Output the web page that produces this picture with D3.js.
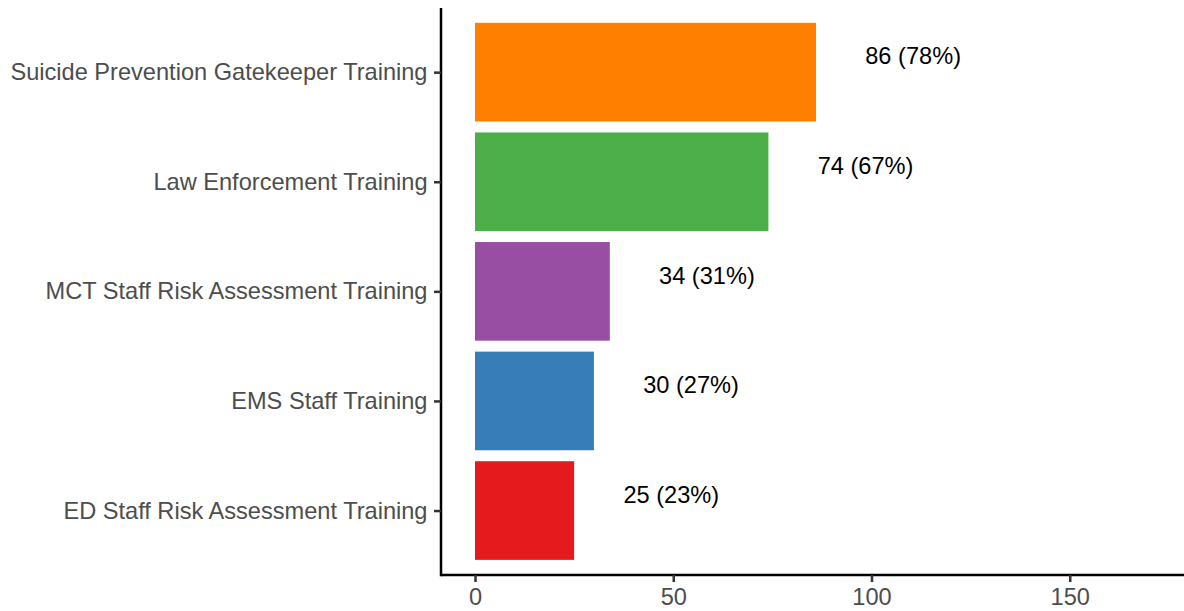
<!DOCTYPE html>
<html><head><meta charset="utf-8">
<script src="https://cdn.jsdelivr.net/npm/d3@7"></script>
<style>body{margin:0;background:#fff}svg{display:block}</style>
</head><body>
<svg id="c" width="1184" height="611"></svg>
<script>
const categories = ["Suicide Prevention Gatekeeper Training","Law Enforcement Training","MCT Staff Risk Assessment Training","EMS Staff Training","ED Staff Risk Assessment Training"];
const counts = [86, 74, 34, 30, 25];
const percents = [78, 67, 31, 27, 23];
const colors = ["#FF7F00","#4DAF4A","#984EA3","#377EB8","#E41A1C"];
const xTicks = [0, 50, 100, 150];

(function(){
const svg = d3.select("#c");
const left = 441, topY = 6.4, bottomY = 576.3, axisY = 575;
const ppu = 3.965;
const x = d3.scaleLinear().domain([0, 200]).range([475, 475 + 200*ppu]);
const y = d3.scalePoint().domain(categories).range([topY, bottomY]).padding(0.6);
const bh = y.step()*0.9;
const font = "'Liberation Sans', Arial, sans-serif";
const fs = 23.6;

svg.selectAll("rect.bar").data(categories).join("rect")
  .attr("x", x(0)).attr("y", d => y(d) - bh/2)
  .attr("width", (d,i) => x(counts[i]) - x(0)).attr("height", bh)
  .attr("fill", (d,i) => colors[i]);

svg.selectAll("text.lab").data(categories).join("text")
  .attr("x", (d,i) => x(counts[i] + 24.5)).attr("y", d => y(d) - 16)
  .attr("dy", "0.35em").attr("text-anchor", "middle")
  .attr("font-family", font).attr("font-size", fs).attr("fill", "#000")
  .text((d,i) => `${counts[i]} (${percents[i]}%)`);

const xa = svg.append("g").attr("transform", `translate(0,${axisY})`)
  .call(d3.axisBottom(x).tickValues(xTicks).tickSize(7).tickPadding(6).tickSizeOuter(0));
xa.select(".domain").attr("d", `M${left},0H1184`).attr("stroke", "#000").attr("stroke-width", 2.5);
xa.selectAll(".tick line").attr("stroke", "#333").attr("stroke-width", 2.5);
xa.selectAll(".tick text").attr("fill", "#4D4D4D").attr("font-size", fs).attr("font-family", font);

const ya = svg.append("g").attr("transform", `translate(${left},0)`)
  .call(d3.axisLeft(y).tickSize(7).tickPadding(6.5).tickSizeOuter(0));
ya.select(".domain").attr("d", `M0,${topY+1.5}V${axisY+1.25}`).attr("stroke", "#000").attr("stroke-width", 2.5);
ya.selectAll(".tick line").attr("stroke", "#333").attr("stroke-width", 2.5);
ya.selectAll(".tick text").attr("fill", "#4D4D4D").attr("font-size", fs).attr("font-family", font);
})();
</script>
</body></html>
